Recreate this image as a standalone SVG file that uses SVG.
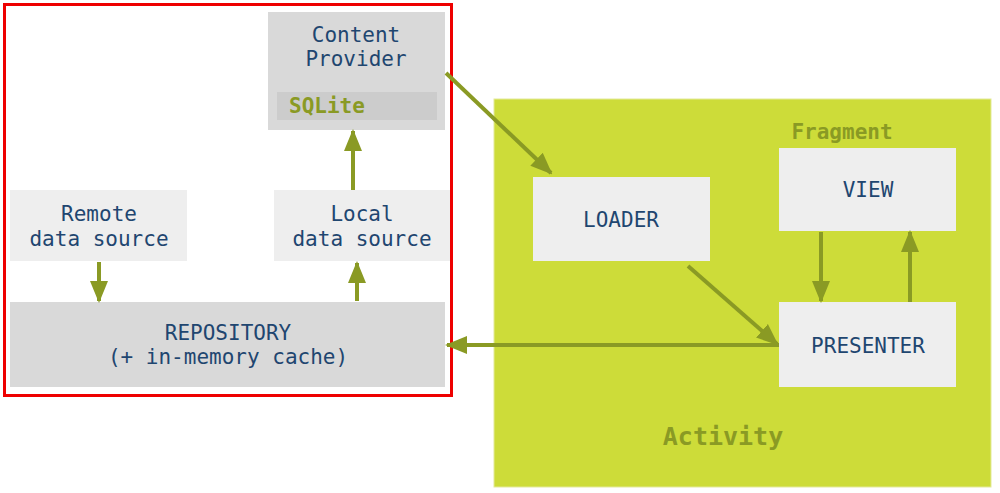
<svg xmlns="http://www.w3.org/2000/svg" width="1000" height="493" viewBox="0 0 1000 493">
<style>
.t{font-family:"DejaVu Sans Mono","Liberation Mono",monospace;font-size:21px;fill:#1f4670;text-anchor:middle}
.g{font-family:"DejaVu Sans Mono","Liberation Mono",monospace;font-weight:bold;fill:#8a9a24}
.lb{fill:#eeeeee}
.db{fill:#d9d9d9}
.c{stroke:#8a9a24;stroke-width:4;fill:none;marker-end:url(#ah)}
</style>
<defs>
<marker id="ah" markerUnits="userSpaceOnUse" markerWidth="22" markerHeight="20" viewBox="0 0 22 20" refX="20" refY="10" orient="auto">
<path d="M0,1 L22,10 L0,19 Z" fill="#8a9a24"/>
</marker>
</defs>
<rect width="1000" height="493" fill="#ffffff"/>
<g id="activity">
<rect x="494" y="99" width="497" height="388" fill="#cddc39" stroke="#e3ea9a" stroke-width="1"/>
<text class="g" x="723" y="445" font-size="25" text-anchor="middle">Activity</text>
<text class="g" x="842" y="139" font-size="21" text-anchor="middle">Fragment</text>
</g>
<g id="boundary">
<rect x="4.5" y="4.5" width="447" height="391" fill="none" stroke="#ee0000" stroke-width="3"/>
</g>
<g id="content-provider">
<rect class="db" x="268" y="12" width="177" height="118"/>
<rect x="277" y="92" width="160" height="28" fill="#cccccc"/>
<text class="t" x="356" y="42">Content</text>
<text class="t" x="356" y="66">Provider</text>
<text class="g" x="289" y="113" font-size="21">SQLite</text>
</g>
<g id="remote">
<rect class="lb" x="10" y="190" width="177" height="71"/>
<text class="t" x="99" y="221">Remote</text>
<text class="t" x="99" y="246">data source</text>
</g>
<g id="local">
<rect class="lb" x="274" y="190" width="176" height="71"/>
<text class="t" x="362" y="221">Local</text>
<text class="t" x="362" y="246">data source</text>
</g>
<g id="repository">
<rect class="db" x="10" y="302" width="435" height="85"/>
<text class="t" x="228" y="340">REPOSITORY</text>
<text class="t" x="228" y="364">(+ in-memory cache)</text>
</g>
<g id="loader">
<rect class="lb" x="533" y="177" width="177" height="84"/>
<text class="t" x="621" y="227">LOADER</text>
</g>
<g id="view">
<rect class="lb" x="779" y="148" width="177" height="83"/>
<text class="t" x="868" y="197">VIEW</text>
</g>
<g id="presenter">
<rect class="lb" x="779" y="302" width="177" height="85"/>
<text class="t" x="868" y="353">PRESENTER</text>
</g>
<g id="connectors">
<line class="c" x1="99" y1="262" x2="99" y2="301"/>
<line class="c" x1="357" y1="301" x2="357" y2="263"/>
<line class="c" x1="353" y1="190" x2="353" y2="131"/>
<line class="c" x1="446" y1="73" x2="551" y2="173"/>
<line class="c" x1="688" y1="266" x2="777" y2="344"/>
<line class="c" x1="779" y1="345" x2="447" y2="345"/>
<line class="c" x1="821" y1="232" x2="821" y2="301"/>
<line class="c" x1="910" y1="302" x2="910" y2="232"/>
</g>
</svg>
